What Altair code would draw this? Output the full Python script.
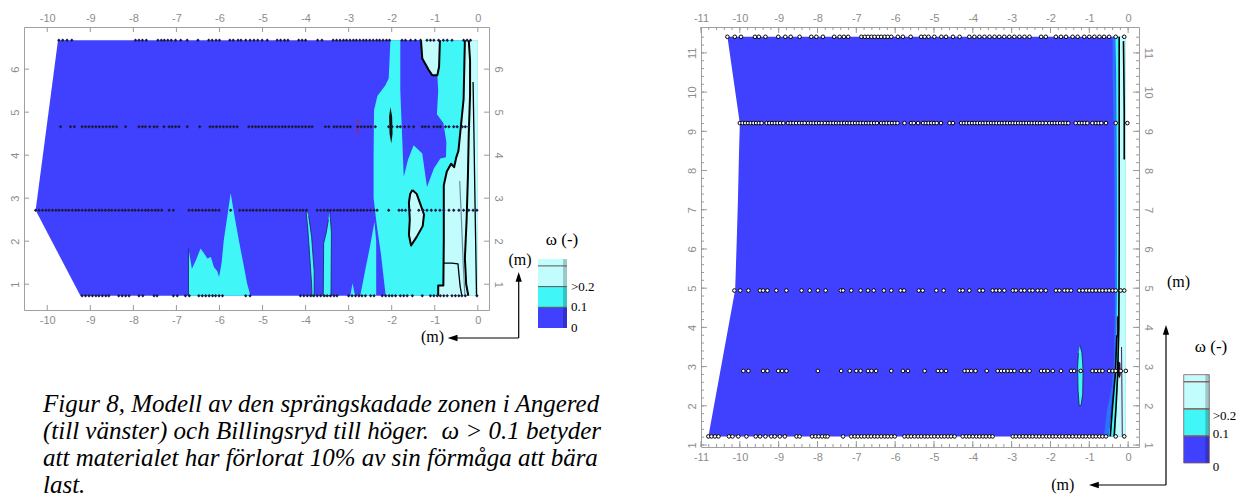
import altair as alt
import pandas as pd

# ---------------- colours ----------------
C_BLUE = "#4040FF"
C_CYAN = "#40F6F6"
C_LIGHT = "#C2FCFC"
C_MID = "#2874FF"

# ================= LEFT PANEL (Angered) =================
L_XDOM = [-10.54, 0.26]
L_YDOM = [0.40, 6.98]
L_XTICKS = [-10, -9, -8, -7, -6, -5, -4, -3, -2, -1, 0]
L_YTICKS = [1, 2, 3, 4, 5, 6]

L_HULL_X = [-9.75, 0.0, 0.0, -9.23, -10.27]
L_HULL_Y = [6.67, 6.67, 0.73, 0.73, 2.72]

L_CY_MAIN_X = [-2.03, 0.0, 0.0, -2.14, -2.25, -2.35, -2.42, -2.42, -2.41, -2.33, -2.15, -2.07, -2.05]
L_CY_MAIN_Y = [6.67, 6.67, 0.73, 0.73, 1.70, 2.40, 3.00, 4.00, 5.05, 5.38, 5.62, 5.78, 6.20]
L_CY_BUMP_X = [-6.72, -6.72, -6.64, -6.55, -6.44, -6.36, -6.28, -6.20, -6.13, -6.05, -6.01, -5.95, -5.90,
               -5.80, -5.74, -5.66, -5.55, -5.43, -5.36, -5.28]
L_CY_BUMP_Y = [0.73, 1.83, 1.36, 1.55, 1.83, 1.72, 1.60, 1.63, 1.40, 1.30, 1.17, 1.50, 2.02,
               2.70, 3.12, 2.64, 2.02, 1.40, 1.02, 0.73]
L_CY_S1_X = [-3.99, -3.95, -3.90, -3.86, -3.85, -3.80, -3.80, -3.86, -3.93]
L_CY_S1_Y = [2.72, 2.30, 1.60, 1.00, 0.73, 0.73, 1.30, 2.10, 2.60]
L_CY_S2_X = [-3.44, -3.40, -3.41, -3.59, -3.58, -3.52, -3.47]
L_CY_S2_Y = [2.72, 2.20, 0.73, 0.73, 1.95, 2.20, 2.50]
L_CY_S3_X = [-2.96, -2.91, -2.85]
L_CY_S3_Y = [0.73, 1.02, 0.73]
L_CY_S4_X = [-2.73, -2.62, -2.50, -2.40, -2.36, -2.36]
L_CY_S4_Y = [0.73, 1.30, 1.90, 2.45, 2.00, 0.73]

L_BL_TONGUE_X = [-1.80, -1.32, -1.29, -1.14, -1.06, -0.94, -0.92, -0.95, -0.80, -0.73, -0.74, -0.87,
                 -1.02, -1.18, -1.29, -1.49, -1.62, -1.72, -1.76, -1.80]
L_BL_TONGUE_Y = [6.67, 6.67, 6.25, 5.98, 5.86, 5.86, 5.50, 4.95, 4.75, 4.30, 3.95, 3.92,
                 3.69, 3.26, 4.04, 4.23, 3.90, 3.50, 4.50, 5.50]

L_LT_MAIN_X = [-0.30, 0.0, 0.0, -0.92, -0.92, -0.80, -0.79, -0.79, -0.72, -0.62, -0.55, -0.50, -0.45, -0.40, -0.33, -0.30]
L_LT_MAIN_Y = [6.67, 6.67, 0.73, 0.73, 0.97, 0.97, 2.00, 3.30, 3.62, 3.80, 3.72, 3.95, 4.10, 4.60, 5.30, 6.00]
L_LT_ISL_X = [-1.52, -1.42, -1.33, -1.25, -1.28, -1.42, -1.55, -1.60, -1.58, -1.60, -1.57]
L_LT_ISL_Y = [3.19, 3.10, 2.85, 2.62, 2.35, 2.10, 1.90, 2.15, 2.50, 2.90, 3.10]
L_LT_POCKET_X = [-1.32, -1.29, -1.14, -1.06, -0.94, -0.90, -0.88]
L_LT_POCKET_Y = [6.67, 6.25, 5.98, 5.86, 5.86, 6.05, 6.67]
L_BLOB_X = [-2.03, -1.99, -1.98, -2.01, -2.05, -2.06]
L_BLOB_Y = [5.12, 4.90, 4.50, 4.27, 4.50, 4.90]

L_LN_A_X = [-0.30, -0.33, -0.40, -0.45, -0.50, -0.55, -0.62, -0.72, -0.79, -0.79, -0.80, -0.92, -0.92]
L_LN_A_Y = [6.67, 5.30, 4.60, 4.10, 3.95, 3.72, 3.80, 3.62, 3.30, 2.00, 0.97, 0.97, 0.73]
L_LN_B_X = [-0.79, -0.60, -0.46, -0.44, -0.41, -0.37]
L_LN_B_Y = [1.49, 1.49, 1.47, 1.25, 0.95, 0.73]
L_LN_C_X = [-0.21, -0.18, -0.18, -0.21, -0.23, -0.26, -0.30, -0.27, -0.22]
L_LN_C_Y = [6.67, 6.20, 5.40, 4.50, 3.50, 2.50, 1.60, 1.00, 0.73]
L_LN_D_X = [-0.11, -0.09, -0.07, -0.05, -0.03]
L_LN_D_Y = [5.70, 4.50, 3.20, 2.00, 0.73]
L_LN_E_X = [-0.42, -0.38, -0.34, -0.30]
L_LN_E_Y = [3.40, 2.50, 1.50, 0.73]
L_RED_MARK_X = [-2.79, -2.79]
L_RED_MARK_Y = [4.50, 4.82]

L_ROW_Y = [6.67, 4.66, 2.72, 0.73]
L_P1_X = [-9.73, -9.64, -9.54, -9.43, -7.95, -7.87, -7.79, -7.70, -7.43, -7.35, -7.28, -7.20, -7.12, -7.02,
          -6.90, -6.75, -6.50, -6.25, -6.17, -6.08, -6.00, -5.76, -5.68, -5.57, -5.50, -5.39, -5.29, -5.20,
          -5.11, -5.01, -4.89, -4.66, -4.58, -4.49, -4.41, -4.16, -4.08, -4.00, -3.72, -3.62, -3.36, -3.28,
          -3.20, -3.12, -3.05, -2.97, -2.89, -2.82, -2.74, -2.66, -2.59, -2.51, -2.43, -2.35, -2.28, -2.20,
          -2.12, -2.05, -1.76, -1.68, -1.56, -1.45, -1.33, -1.18, -1.10, -1.02, -0.91, -0.80, -0.71, -0.60,
          -0.33, -0.25, -0.17]
L_P2_X = [-9.69, -9.46, -9.37, -9.19, -9.11, -9.03, -8.95, -8.87, -8.79, -8.71, -8.63, -8.55, -8.47, -8.39,
          -8.18, -7.87, -7.79, -7.72, -7.62, -7.52, -7.45, -7.29, -7.17, -7.10, -7.02, -6.94, -6.75, -6.46,
          -6.22, -6.15, -6.07, -5.99, -5.91, -5.83, -5.75, -5.67, -5.59, -5.32, -5.24, -5.16, -5.09, -5.01,
          -4.93, -4.85, -4.78, -4.70, -4.62, -4.54, -4.47, -4.39, -4.31, -4.23, -4.16, -4.08, -4.00, -3.92,
          -3.85, -3.54, -3.46, -3.34, -3.27, -3.19, -3.11, -3.03, -2.96, -2.79, -2.71, -2.63, -2.55, -2.48,
          -2.38, -2.07, -1.99, -1.87, -1.80, -1.70, -1.60, -1.49, -1.29, -1.22, -1.14, -1.02, -0.94, -0.87,
          -0.75, -0.67, -0.56, -0.48, -0.36, -0.29, -0.21]
L_P3_X = [-10.27, -10.19, -10.11, -10.03, -9.96, -9.88, -9.80, -9.73, -9.65, -9.57, -9.50, -9.42, -9.34,
          -9.27, -9.19, -9.11, -9.03, -8.96, -8.88, -8.80, -8.73, -8.65, -8.57, -8.50, -8.42, -8.34, -8.26,
          -8.19, -8.11, -8.03, -7.96, -7.88, -7.80, -7.72, -7.65, -7.57, -7.49, -7.42, -7.34, -7.17, -7.07,
          -6.71, -6.63, -6.55, -6.48, -6.40, -6.32, -6.24, -6.16, -6.09, -6.01, -5.74, -5.53, -5.45, -5.37,
          -5.29, -5.22, -5.14, -5.06, -4.98, -4.91, -4.83, -4.75, -4.68, -4.60, -4.52, -4.44, -4.37, -4.29,
          -4.21, -4.13, -4.06, -3.98, -3.73, -3.65, -3.57, -3.49, -3.42, -3.34, -3.26, -3.19, -3.11, -3.03,
          -2.95, -2.88, -2.80, -2.72, -2.65, -2.57, -2.49, -2.41, -2.34, -2.07, -1.83, -1.76, -1.68, -1.58,
          -1.37, -1.27, -1.18, -1.08, -0.98, -0.88, -0.79, -0.67, -0.56, -0.44, -0.33, -0.21, -0.11, -0.02]
L_P4_X = [-9.19, -9.11, -9.03, -8.95, -8.87, -8.80, -8.72, -8.64, -8.57, -8.34, -8.26, -8.18, -8.10, -7.87,
          -7.78, -7.52, -7.45, -7.07, -6.98, -6.79, -6.70, -6.48, -6.40, -6.32, -6.24, -6.16, -6.09, -6.01,
          -5.93, -5.39, -5.29, -4.12, -4.04, -3.96, -3.88, -3.81, -3.73, -3.65, -3.57, -3.50, -3.42, -3.34,
          -3.27, -3.00, -2.92, -2.84, -2.76, -2.69, -2.61, -2.49, -2.41, -2.22, -2.14, -2.06, -1.99, -1.91,
          -1.80, -1.72, -1.64, -1.52, -1.29, -1.10, -1.02, -0.94, -0.87, -0.79, -0.71, -0.60, -0.52, -0.44,
          -0.37, -0.29, -0.02]

# ================= RIGHT PANEL (Billingsryd) =================
R_XDOM = [-11.0, 0.28]
R_YDOM = [0.95, 11.66]
R_XTICKS = [-11, -10, -9, -8, -7, -6, -5, -4, -3, -2, -1, 0]
R_YTICKS = [1, 2, 3, 4, 5, 6, 7, 8, 9, 10, 11]
R_MINOR_STEP = 0.2

R_HULL_X = [-10.32, -0.06, -0.06, -10.81, -10.12, -10.08, -10.05, -10.02, -10.00]
R_HULL_Y = [11.41, 11.41, 1.22, 1.22, 4.96, 6.20, 7.20, 8.50, 9.20]
R_MID_X = [-0.40, -0.33, -0.31, -0.30, -0.29, -0.30, -0.38, -0.45, -0.50, -0.62, -0.55, -0.42, -0.36,
           -0.34, -0.35, -0.37, -0.40]
R_MID_Y = [11.41, 11.41, 9.0, 7.0, 5.0, 3.5, 2.5, 1.9, 1.22, 1.22, 1.85, 2.5, 3.2, 5.0, 7.0, 9.0, 10.5]
R_CY_X = [-0.33, -0.06, -0.06, -0.50, -0.43, -0.36, -0.31, -0.29, -0.29, -0.30, -0.31]
R_CY_Y = [11.41, 11.41, 1.22, 1.22, 1.80, 2.50, 3.40, 5.00, 7.00, 9.00, 10.50]
R_CY_ELL_X = [-1.24, -1.19, -1.16, -1.17, -1.21, -1.26, -1.29, -1.30, -1.28]
R_CY_ELL_Y = [3.55, 3.35, 2.90, 2.30, 2.02, 2.00, 2.40, 3.00, 3.35]
R_LT_X = [-0.21, -0.06, -0.06, -0.33, -0.29, -0.25, -0.22, -0.21, -0.21, -0.21]
R_LT_Y = [11.41, 11.41, 1.22, 1.22, 2.00, 2.80, 4.00, 6.00, 8.00, 10.00]
R_BLOB1_X = [-0.28, -0.20, -0.19, -0.22, -0.29]
R_BLOB1_Y = [3.15, 3.10, 2.80, 2.70, 2.80]
R_BLOB2_X = [-0.29, -0.24, -0.24, -0.29]
R_BLOB2_Y = [4.30, 4.25, 3.75, 3.75]
R_LN_A_X = [-0.23, -0.23, -0.23, -0.24, -0.27, -0.31, -0.36]
R_LN_A_Y = [11.41, 9.0, 6.0, 4.0, 2.8, 2.0, 1.22]
R_LN_B_X = [-0.12, -0.11, -0.10, -0.10]
R_LN_B_Y = [11.30, 10.5, 9.5, 8.28]
R_LN_C_X = [-0.29, -0.33, -0.40, -0.46]
R_LN_C_Y = [3.80, 2.80, 2.00, 1.22]
R_LN_D_X = [-0.17, -0.16, -0.15]
R_LN_D_Y = [3.50, 2.40, 1.22]

R_ROW_Y = [11.41, 9.21, 4.94, 2.89, 1.22]
R_P1_X = [-10.32, -10.13, -9.97, -9.61, -9.51, -9.34, -9.01, -8.83, -8.69, -8.46, -8.16, -8.03, -7.86, -7.57,
          -7.43, -7.32, -7.21, -6.87, -6.78, -6.70, -6.61, -6.53, -6.44, -6.36, -6.27, -6.19, -6.10, -5.93,
          -5.80, -5.60, -5.33, -5.24, -5.14, -4.99, -4.81, -4.69, -4.51, -4.34, -4.09, -3.96, -3.83, -3.70,
          -3.57, -3.44, -3.32, -3.19, -3.06, -2.93, -2.80, -2.67, -2.54, -2.24, -2.12, -1.86, -1.73, -1.60,
          -1.43, -1.30, -1.13, -1.00, -0.87, -0.74, -0.62, -0.49, -0.32, -0.10]
R_P2_X = [-10.00, -9.93, -9.86, -9.79, -9.72, -9.65, -9.58, -9.51, -9.44, -9.31, -9.24, -9.17, -9.10, -9.03,
          -8.96, -8.88, -8.76, -8.69, -8.62, -8.55, -8.47, -8.40, -8.33, -8.24, -8.17, -8.10, -8.03, -7.96,
          -7.89, -7.81, -7.73, -7.66, -7.59, -7.52, -7.45, -7.38, -7.31, -7.24, -7.17, -7.10, -7.03, -6.96,
          -6.89, -6.82, -6.75, -6.68, -6.61, -6.54, -6.47, -6.36, -6.29, -6.22, -6.15, -6.08, -6.01, -5.94,
          -5.76, -5.59, -5.52, -5.41, -5.28, -5.21, -5.14, -5.07, -5.00, -4.93, -4.82, -4.60, -4.51, -4.30,
          -4.23, -4.16, -4.09, -4.02, -3.95, -3.88, -3.81, -3.74, -3.67, -3.60, -3.53, -3.46, -3.39, -3.32,
          -3.25, -3.18, -3.11, -3.04, -2.97, -2.90, -2.83, -2.76, -2.69, -2.62, -2.55, -2.48, -2.41, -2.34,
          -2.27, -2.20, -2.12, -2.03, -1.96, -1.89, -1.82, -1.75, -1.68, -1.61, -1.54, -1.35, -1.26, -1.19,
          -1.12, -1.05, -0.92, -0.83, -0.76, -0.69, -0.57, -0.32, -0.02]
R_P3_X = [-10.14, -9.99, -9.78, -9.48, -9.40, -9.29, -9.06, -8.80, -8.41, -8.20, -7.99, -7.79, -7.40, -7.34,
          -7.13, -6.89, -6.70, -6.55, -6.29, -6.10, -5.86, -5.77, -5.39, -5.29, -4.94, -4.75, -4.34, -4.26,
          -4.09, -3.83, -3.74, -3.49, -3.40, -3.31, -3.19, -2.97, -2.89, -2.76, -2.67, -2.54, -2.46, -2.33,
          -2.24, -2.12, -1.86, -1.77, -1.64, -1.56, -1.47, -1.26, -1.17, -1.08, -1.00, -0.92, -0.83, -0.74,
          -0.66, -0.57, -0.49, -0.40, -0.32, -0.19, -0.10]
R_P4_X = [-9.91, -9.78, -9.40, -9.29, -9.01, -8.91, -8.80, -7.99, -7.39, -7.17, -7.00, -6.89, -6.70, -6.61,
          -6.49, -6.10, -5.80, -5.67, -5.24, -4.90, -4.81, -4.69, -4.21, -4.13, -4.04, -3.93, -3.64, -3.36,
          -3.27, -3.19, -3.10, -3.02, -2.93, -2.76, -2.67, -2.54, -2.24, -2.16, -2.07, -1.94, -1.73, -1.47,
          -1.39, -1.22, -0.92, -0.83, -0.74, -0.66, -0.49, -0.40, -0.32, -0.19, -0.06]
R_P5_X = [-10.81, -10.73, -10.64, -10.55, -10.28, -10.19, -10.04, -9.83, -9.59, -9.48, -9.34, -9.19, -9.10,
          -8.97, -8.84, -8.54, -8.46, -8.14, -8.05, -7.97, -7.88, -7.80, -7.74, -7.34, -7.13, -7.04, -6.96,
          -6.87, -6.79, -6.70, -6.62, -6.53, -6.45, -6.36, -6.27, -6.19, -6.10, -6.01, -5.76, -5.67, -5.59,
          -5.50, -5.41, -5.33, -5.24, -5.16, -5.07, -4.99, -4.90, -4.81, -4.73, -4.64, -4.56, -4.47, -4.26,
          -4.17, -4.09, -4.00, -3.91, -3.83, -3.74, -3.66, -3.57, -3.49, -2.97, -2.89, -2.80, -2.71, -2.63,
          -2.54, -2.46, -2.37, -2.29, -2.20, -2.11, -2.03, -1.94, -1.86, -1.77, -1.69, -1.60, -1.52, -1.43,
          -1.34, -1.26, -1.17, -1.09, -1.00, -0.91, -0.83, -0.74, -0.66, -0.57, -0.32, -0.10]

# ================= legends =================
LEG_BANDS = ["0-0.1", "0.1-0.2", ">0.2", ">0.3"]
LEG_LO = [0, 1, 2, 3]
L_LEG_HI = [1, 2, 3, 3.33]
R_LEG_HI = [1, 2, 3, 3.26]
LEG_COLORS = [C_BLUE, C_CYAN, C_LIGHT, C_LIGHT]
LEG_LABELS = ["0", "0.1", ">0.2"]
L_LEG_LABEL_LEVELS = [0, 1, 2]
R_LEG_LABEL_LEVELS = [-0.16, 1.07, 1.72]
LEG_SEPS = [1, 2, 3]

CAPTION = [
    "Figur 8, Modell av den sprängskadade zonen i Angered",
    "(till vänster) och Billingsryd till höger.\u00a0 \u03c9 > 0.1 betyder",
    "att materialet har förlorat 10% av sin förmåga att bära",
    "last.",
]


# ---------------- helpers ----------------
def poly_frame(items):
    rows = []
    for k, (px, py) in enumerate(items):
        for i, (x, y) in enumerate(zip(px, py)):
            rows.append({"pid": k, "i": i, "x": x, "y": y})
    return pd.DataFrame(rows)


def shapes(items, sx, sy, fill=None, stroke=None, sw=1.0):
    if fill is not None:
        kw = dict(filled=True, color=fill, interpolate="linear")
        if stroke is not None:
            kw.update(stroke=stroke, strokeWidth=sw)
        else:
            kw.update(strokeWidth=0)
    else:
        kw = dict(color=stroke, strokeWidth=sw, interpolate="linear", strokeJoin="round")
    return alt.Chart(poly_frame(items)).mark_line(**kw).encode(
        x=alt.X("x:Q", scale=sx, axis=None),
        y=alt.Y("y:Q", scale=sy, axis=None),
        detail="pid:N",
        order="i:Q",
    )


def closed(xs, ys):
    return (xs + xs[:1], ys + ys[:1])


AX = dict(grid=False, domain=False, ticks=False, labelColor="#8c8c8c", labelFont="Liberation Sans",
          labelFontSize=11, title=None, labelFlush=False, labelOverlap=False,
          labelExpr="'' + datum.value")


def axes_pair(xt, yt):
    xb = alt.Axis(orient="bottom", values=xt, labelPadding=4, **AX)
    xtop = alt.Axis(orient="top", values=xt, labelPadding=4, **AX)
    yl = alt.Axis(orient="left", values=yt, labelAngle=270, labelAlign="center",
                  labelBaseline="bottom", labelPadding=4, **AX)
    yr = alt.Axis(orient="right", values=yt, labelAngle=90, labelAlign="center",
                  labelBaseline="bottom", labelPadding=3, **AX)
    return xb, xtop, yl, yr


def tick_layers(sx, sy, xt, yt, W, H, length, color="#9a9a9a"):
    dx = pd.DataFrame({"v": xt})
    dy = pd.DataFrame({"v": yt})
    out = []
    for ypix in (length / 2, H - length / 2):
        out.append(alt.Chart(dx).mark_tick(orient="vertical", size=length, thickness=1, color=color,
                                           opacity=1).encode(
            x=alt.X("v:Q", scale=sx, axis=None), y=alt.value(ypix)))
    for xpix in (length / 2, W - length / 2):
        out.append(alt.Chart(dy).mark_tick(orient="horizontal", size=length, thickness=1, color=color,
                                           opacity=1).encode(
            y=alt.Y("v:Q", scale=sy, axis=None), x=alt.value(xpix)))
    return out


def points_frame(rows_y, rows_x):
    recs = []
    for yv, xs in zip(rows_y, rows_x):
        for xv in xs:
            recs.append({"x": xv, "y": yv})
    return pd.DataFrame(recs)


# ---------------- left panel ----------------
L_W, L_H = 465, 283
lsx = alt.Scale(domain=L_XDOM, nice=False, zero=False)
lsy = alt.Scale(domain=L_YDOM, nice=False, zero=False)
lxb, lxt, lyl, lyr = axes_pair(L_XTICKS, L_YTICKS)

l_hull = alt.Chart(poly_frame([(L_HULL_X, L_HULL_Y)])).mark_line(
    filled=True, color=C_BLUE, strokeWidth=0).encode(
    x=alt.X("x:Q", scale=lsx, axis=lxb),
    y=alt.Y("y:Q", scale=lsy, axis=lyl),
    detail="pid:N", order="i:Q")

l_cyan = shapes([(L_CY_MAIN_X, L_CY_MAIN_Y), (L_CY_BUMP_X, L_CY_BUMP_Y),
                 (L_CY_S1_X, L_CY_S1_Y), (L_CY_S2_X, L_CY_S2_Y),
                 (L_CY_S3_X, L_CY_S3_Y), (L_CY_S4_X, L_CY_S4_Y)], lsx, lsy, fill=C_CYAN)
l_cyan_edges = shapes([(L_CY_S1_X, L_CY_S1_Y), (L_CY_S2_X, L_CY_S2_Y), (L_CY_BUMP_X[:2], L_CY_BUMP_Y[:2])],
                      lsx, lsy, stroke="#202060", sw=0.8)
l_blue = shapes([(L_BL_TONGUE_X, L_BL_TONGUE_Y)], lsx, lsy, fill=C_BLUE)
l_light = shapes([(L_LT_MAIN_X, L_LT_MAIN_Y), (L_LT_ISL_X, L_LT_ISL_Y),
                  (L_LT_POCKET_X, L_LT_POCKET_Y)], lsx, lsy, fill=C_LIGHT)
l_blob = shapes([(L_BLOB_X, L_BLOB_Y)], lsx, lsy, fill="#111111")
l_black = shapes([(L_LN_A_X, L_LN_A_Y), (L_LN_C_X, L_LN_C_Y), (L_LT_POCKET_X, L_LT_POCKET_Y),
                  closed(L_LT_ISL_X, L_LT_ISL_Y)], lsx, lsy, stroke="#000000", sw=2)
l_thin = shapes([(L_LN_B_X, L_LN_B_Y), (L_LN_D_X, L_LN_D_Y)], lsx, lsy, stroke="#000000", sw=1.3)
l_steel = shapes([(L_LN_E_X, L_LN_E_Y)], lsx, lsy, stroke="#6a8aa0", sw=1.2)
l_red = shapes([(L_RED_MARK_X, L_RED_MARK_Y)], lsx, lsy, stroke="#c02040", sw=1.2)

l_pts = alt.Chart(points_frame(L_ROW_Y, [L_P1_X, L_P2_X, L_P3_X, L_P4_X])).mark_point(
    shape="diamond", filled=True, color="#1a1a40", size=12, opacity=1).encode(
    x=alt.X("x:Q", scale=lsx, axis=lxt),
    y=alt.Y("y:Q", scale=lsy, axis=lyr))

l_ticks = tick_layers(lsx, lsy, L_XTICKS, L_YTICKS, L_W, L_H, 5)

cap_layers = []
for k, line in enumerate(CAPTION):
    cap_layers.append(
        alt.Chart(pd.DataFrame({"t": [line]})).mark_text(
            align="left", baseline="middle", font="Liberation Serif", fontStyle="italic",
            fontSize=25, color="#000000").encode(
            text="t:N", x=alt.value(19), y=alt.value(377 + 27 * k)))

left = alt.layer(l_hull, l_cyan, l_cyan_edges, l_blue, l_light, l_blob, l_black, l_thin, l_steel,
                 l_red, l_pts, *l_ticks, *cap_layers).properties(width=L_W, height=L_H)

# ---------------- right panel ----------------
R_W, R_H = 438, 420
rsx = alt.Scale(domain=R_XDOM, nice=False, zero=False)
rsy = alt.Scale(domain=R_YDOM, nice=False, zero=False)
rxb, rxt, ryl, ryr = axes_pair(R_XTICKS, R_YTICKS)

r_hull = alt.Chart(poly_frame([(R_HULL_X, R_HULL_Y)])).mark_line(
    filled=True, color=C_BLUE, strokeWidth=0).encode(
    x=alt.X("x:Q", scale=rsx, axis=rxb),
    y=alt.Y("y:Q", scale=rsy, axis=ryl),
    detail="pid:N", order="i:Q")
r_mid = shapes([(R_MID_X, R_MID_Y)], rsx, rsy, fill=C_MID)
r_cyan = shapes([(R_CY_X, R_CY_Y)], rsx, rsy, fill=C_CYAN)
r_ell = shapes([(R_CY_ELL_X, R_CY_ELL_Y)], rsx, rsy, fill=C_CYAN, stroke="#202040", sw=0.8)
r_light = shapes([(R_LT_X, R_LT_Y)], rsx, rsy, fill=C_LIGHT)
r_blobs = shapes([(R_BLOB1_X, R_BLOB1_Y), (R_BLOB2_X, R_BLOB2_Y)], rsx, rsy, fill="#2a0a2a")
r_black = shapes([(R_LN_A_X, R_LN_A_Y), (R_LN_B_X, R_LN_B_Y), (R_LN_C_X, R_LN_C_Y)], rsx, rsy,
                 stroke="#000000", sw=1.6)
r_purple = shapes([(R_LN_D_X, R_LN_D_Y)], rsx, rsy, stroke="#5a1a5a", sw=1)

r_pts = alt.Chart(points_frame(R_ROW_Y, [R_P1_X, R_P2_X, R_P3_X, R_P4_X, R_P5_X])).mark_point(
    shape="circle", filled=False, color="#000000", fill="#ffffff", fillOpacity=1,
    size=13, strokeWidth=1, opacity=1).encode(
    x=alt.X("x:Q", scale=rsx, axis=rxt),
    y=alt.Y("y:Q", scale=rsy, axis=ryr))

r_minor_x = [round(-11 + R_MINOR_STEP * k, 2) for k in range(int(11.2 / R_MINOR_STEP) + 1)]
r_minor_y = [round(1 + R_MINOR_STEP * k, 2) for k in range(int(10.6 / R_MINOR_STEP) + 1)]
r_ticks = tick_layers(rsx, rsy, R_XTICKS, R_YTICKS, R_W, R_H, 6) + \
    tick_layers(rsx, rsy, r_minor_x, r_minor_y, R_W, R_H, 3)

right = alt.layer(r_hull, r_mid, r_cyan, r_ell, r_light, r_blobs, r_black, r_purple, r_pts,
                  *r_ticks).properties(width=R_W, height=R_H)


# ---------------- legend panels ----------------
ARROW_UP = "M0,-1L0.45,0.4L-0.45,0.4Z"
ARROW_LEFT = "M-1,0L0.4,-0.45L0.4,0.45Z"


def legend_panel(hi, label_levels, height, unit, box_x0, box_x1, label_x, title_xy,
                 m_up_xy, m_left_xy, v_x, v_top, h_y, h_left, outline):
    ysc = alt.Scale(domain=[0, height / unit], nice=False, zero=False)
    bands = pd.DataFrame({"band": LEG_BANDS, "lo": LEG_LO, "hi": hi})
    rects = alt.Chart(bands).mark_rect(stroke=outline or "#333333",
                                       strokeWidth=0.8 if outline else 0).encode(
        x=alt.value(box_x0), x2=alt.value(box_x1),
        y=alt.Y("lo:Q", scale=ysc, axis=None), y2="hi:Q",
        fill=alt.Fill("band:N", scale=alt.Scale(domain=LEG_BANDS, range=LEG_COLORS), legend=None))
    shade = alt.Chart(bands).mark_rect(color="#000000", opacity=0.2).encode(
        x=alt.value(box_x1 - 4), x2=alt.value(box_x1),
        y=alt.Y("lo:Q", scale=ysc, axis=None), y2="hi:Q")
    seps = alt.Chart(pd.DataFrame({"s": LEG_SEPS})).mark_rule(
        color=outline or "#555555", strokeWidth=1).encode(
        x=alt.value(box_x0), x2=alt.value(box_x1), y=alt.Y("s:Q", scale=ysc, axis=None))
    labels = alt.Chart(pd.DataFrame({"t": LEG_LABELS, "v": label_levels})).mark_text(
        align="left", baseline="middle", font="Liberation Serif", fontSize=13, color="#000000").encode(
        x=alt.value(label_x), y=alt.Y("v:Q", scale=ysc, axis=None), text="t:N")

    def txt(s, xy, size):
        return alt.Chart(pd.DataFrame({"t": [s]})).mark_text(
            align="center", baseline="middle", font="Liberation Serif", fontSize=size,
            color="#000000").encode(text="t:N", x=alt.value(xy[0]), y=alt.value(xy[1]))

    title = txt("\u03c9 (-)", title_xy, 17)
    m_up = txt("(m)", m_up_xy, 16)
    m_left = txt("(m)", m_left_xy, 16)
    vrule = alt.Chart(pd.DataFrame({"a": [0]})).mark_rule(color="#000000", strokeWidth=1.2).encode(
        x=alt.value(v_x), y=alt.value(v_top + 6), y2=alt.value(h_y))
    hrule = alt.Chart(pd.DataFrame({"a": [0]})).mark_rule(color="#000000", strokeWidth=1.2).encode(
        x=alt.value(h_left + 6), x2=alt.value(v_x), y=alt.value(h_y))
    head_up = alt.Chart(pd.DataFrame({"a": [0]})).mark_point(
        shape=ARROW_UP, filled=True, color="#000000", size=196, opacity=1).encode(
        x=alt.value(v_x), y=alt.value(v_top + 7))
    head_left = alt.Chart(pd.DataFrame({"a": [0]})).mark_point(
        shape=ARROW_LEFT, filled=True, color="#000000", size=196, opacity=1).encode(
        x=alt.value(h_left + 7), y=alt.value(h_y))
    return alt.layer(rects, shade, seps, labels, title, m_up, m_left, vrule, hrule,
                     head_up, head_left).properties(
        width=box_x1 + 60, height=height,
        view=alt.ViewBackground(stroke="transparent"))


GAP = 10
LEG_L_W = 700 - (23 + L_W + GAP) - GAP  # keeps right panel at its place

leg_left = legend_panel(L_LEG_HI, L_LEG_LABEL_LEVELS, 301, 20.7, 39, 68, 72, (63, 213),
                        (21, 233), (-66.5, 310), 19.7, 245, 311, -51.3, None)
leg_left = leg_left.properties(width=LEG_L_W)
leg_right = legend_panel(R_LEG_HI, R_LEG_LABEL_LEVELS, 436, 27.1, 34.7, 60.3, 63.7, (62, 320),
                         (29.5, 254.7), (-86.3, 458), 17, 298, 458, -60, "#8a5a5a")
leg_right = leg_right.properties(width=80)

chart = alt.hconcat(left, leg_left, right, leg_right, spacing=GAP, bounds="flush").properties(
    padding={"left": 0, "top": 3, "right": 0, "bottom": 0}
).configure_view(stroke="#a0a0a0", strokeWidth=1)

chart.save("out.html", embed_options={"renderer": "svg", "actions": False})
